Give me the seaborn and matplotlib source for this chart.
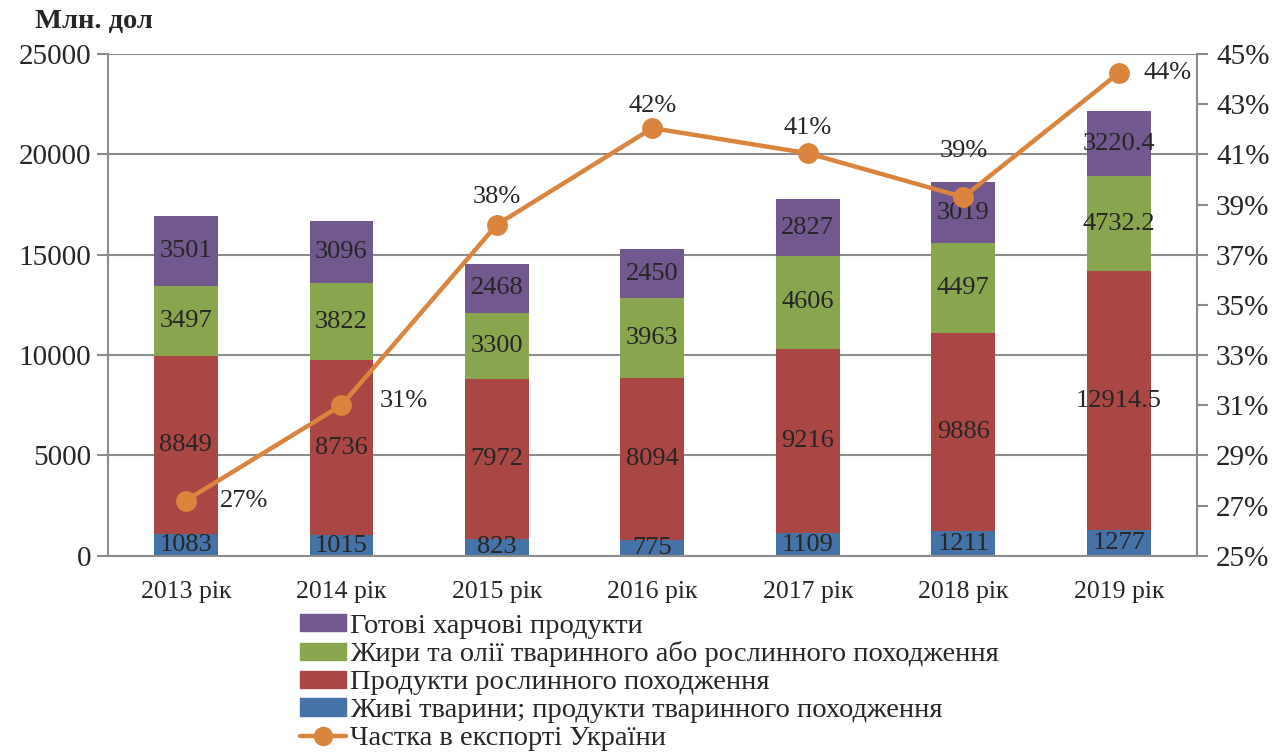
import numpy as np
import pandas as pd
import matplotlib
matplotlib.use("Agg")
import matplotlib.pyplot as plt
import seaborn as sns
from matplotlib.patches import Patch
from matplotlib.lines import Line2D

# дані
years = ['2013 рік', '2014 рік', '2015 рік', '2016 рік', '2017 рік', '2018 рік', '2019 рік']
live = [1083, 1015, 823, 775, 1109, 1211, 1277]
plant = [8849, 8736, 7972, 8094, 9216, 9886, 12914.5]
fats = [3497, 3822, 3300, 3963, 4606, 4497, 4732.2]
ready = [3501, 3096, 2468, 2450, 2827, 3019, 3220.4]
share = [27.2, 31.0, 38.2, 42.05, 41.05, 39.3, 44.25]
share_labels = ['27%', '31%', '38%', '42%', '41%', '39%', '44%']
seg_labels = {
    'live': ['1083', '1015', '823', '775', '1109', '1211', '1277'],
    'plant': ['8849', '8736', '7972', '8094', '9216', '9886', '12914.5'],
    'fats': ['3497', '3822', '3300', '3963', '4606', '4497', '4732.2'],
    'ready': ['3501', '3096', '2468', '2450', '2827', '3019', '3220.4'],
}
names = ['Живі тварини; продукти тваринного походження',
         'Продукти рослинного походження',
         'Жири та олії тваринного або рослинного походження',
         'Готові харчові продукти']
line_name = 'Частка в експорті України'

colors = ['#4572A7', '#AA4643', '#89A54E', '#71588F']
orange = '#DB843D'
grid_c = '#8C8C8C'

sns.set_style('white')
plt.rcParams['font.family'] = ['Liberation Serif', 'DejaVu Serif']

df = pd.DataFrame({'year': years, 'live': live, 'plant': plant, 'fats': fats, 'ready': ready})
df['c1'] = df['live']
df['c2'] = df['c1'] + df['plant']
df['c3'] = df['c2'] + df['fats']
df['c4'] = df['c3'] + df['ready']

fig = plt.figure(figsize=(12.88, 7.52), dpi=100)
ax1 = fig.add_axes([0.084, 0.261, 0.845, 0.667])

# накладені стовпці (від найвищого до найнижчого)
for col, c in zip(['c4', 'c3', 'c2', 'c1'], colors[::-1]):
    sns.barplot(x='year', y=col, data=df, ax=ax1, color=c, width=0.41,
                saturation=1, edgecolor='none', zorder=2)

ax1.set_xlim(-0.5, 6.5)
ax1.set_ylim(0, 25000)
ax1.set_yticks(np.arange(0, 25001, 5000))
ax1.yaxis.grid(True, color=grid_c, linewidth=1.5)
ax1.set_axisbelow(True)
ax1.set_xlabel('')
ax1.set_ylabel('')
ax1.set_xticks(np.arange(-0.5, 7, 1), minor=True)
ax1.tick_params(axis='x', which='major', length=0, labelsize=18.5, pad=18)
ax1.tick_params(axis='x', which='minor', length=8, width=1.5, color=grid_c, direction='out')
ax1.tick_params(axis='y', length=8, width=1.5, color=grid_c, direction='out', labelsize=21, pad=4)
for s in ['left', 'bottom']:
    ax1.spines[s].set_color(grid_c)
    ax1.spines[s].set_linewidth(1.5)
ax1.spines['top'].set_visible(False)
ax1.spines['right'].set_visible(False)

# підписи сегментів
bottoms = [np.zeros(7), df['c1'].values, df['c2'].values, df['c3'].values]
vals = [live, plant, fats, ready]
for key, b, v in zip(['live', 'plant', 'fats', 'ready'], bottoms, vals):
    for i in range(7):
        ax1.text(i, b[i] + v[i] / 2, seg_labels[key][i], ha='center', va='center',
                 fontsize=19, zorder=5)

# частка в експорті
ax2 = ax1.twinx()
sns.lineplot(x=np.arange(7), y=share, ax=ax2, color=orange, linewidth=3.2,
             marker='o', markersize=15, markeredgewidth=0, zorder=6)
ax2.set_ylim(25, 45)
ax2.set_yticks(np.arange(25, 46, 2))
ax2.set_yticklabels([f'{t}%' for t in range(25, 46, 2)])
ax2.tick_params(axis='y', length=8, width=1.5, color=grid_c, direction='out', labelsize=21, pad=6)
ax2.spines['right'].set_color(grid_c)
ax2.spines['right'].set_linewidth(1.5)
for s in ['top', 'left', 'bottom']:
    ax2.spines[s].set_visible(False)

offsets = [(42, 0), (45, 3), (0, 20), (0, 16), (0, 18), (0, 33), (35, 0)]
for i, (lab, off) in enumerate(zip(share_labels, offsets)):
    ax2.annotate(lab, (i, share[i]), xytext=off, textcoords='offset points',
                 ha='center', va='center', fontsize=19)

fig.text(0.027, 0.972, 'Млн. дол', fontsize=20.5, fontweight='bold', va='center')

handles = [Patch(color=colors[3]), Patch(color=colors[2]), Patch(color=colors[1]),
           Patch(color=colors[0]),
           Line2D([0], [0], color=orange, linewidth=3.2, marker='o', markersize=13)]
labels = [names[3], names[2], names[1], names[0], line_name]
fig.legend(handles, labels, loc='upper left', bbox_to_anchor=(0.222, 0.203),
           frameon=False, fontsize=20.5, handlelength=1.6, handleheight=0.55,
           handletextpad=0.15, labelspacing=0.1, borderpad=0)

fig.savefig('out.png', dpi=100)
